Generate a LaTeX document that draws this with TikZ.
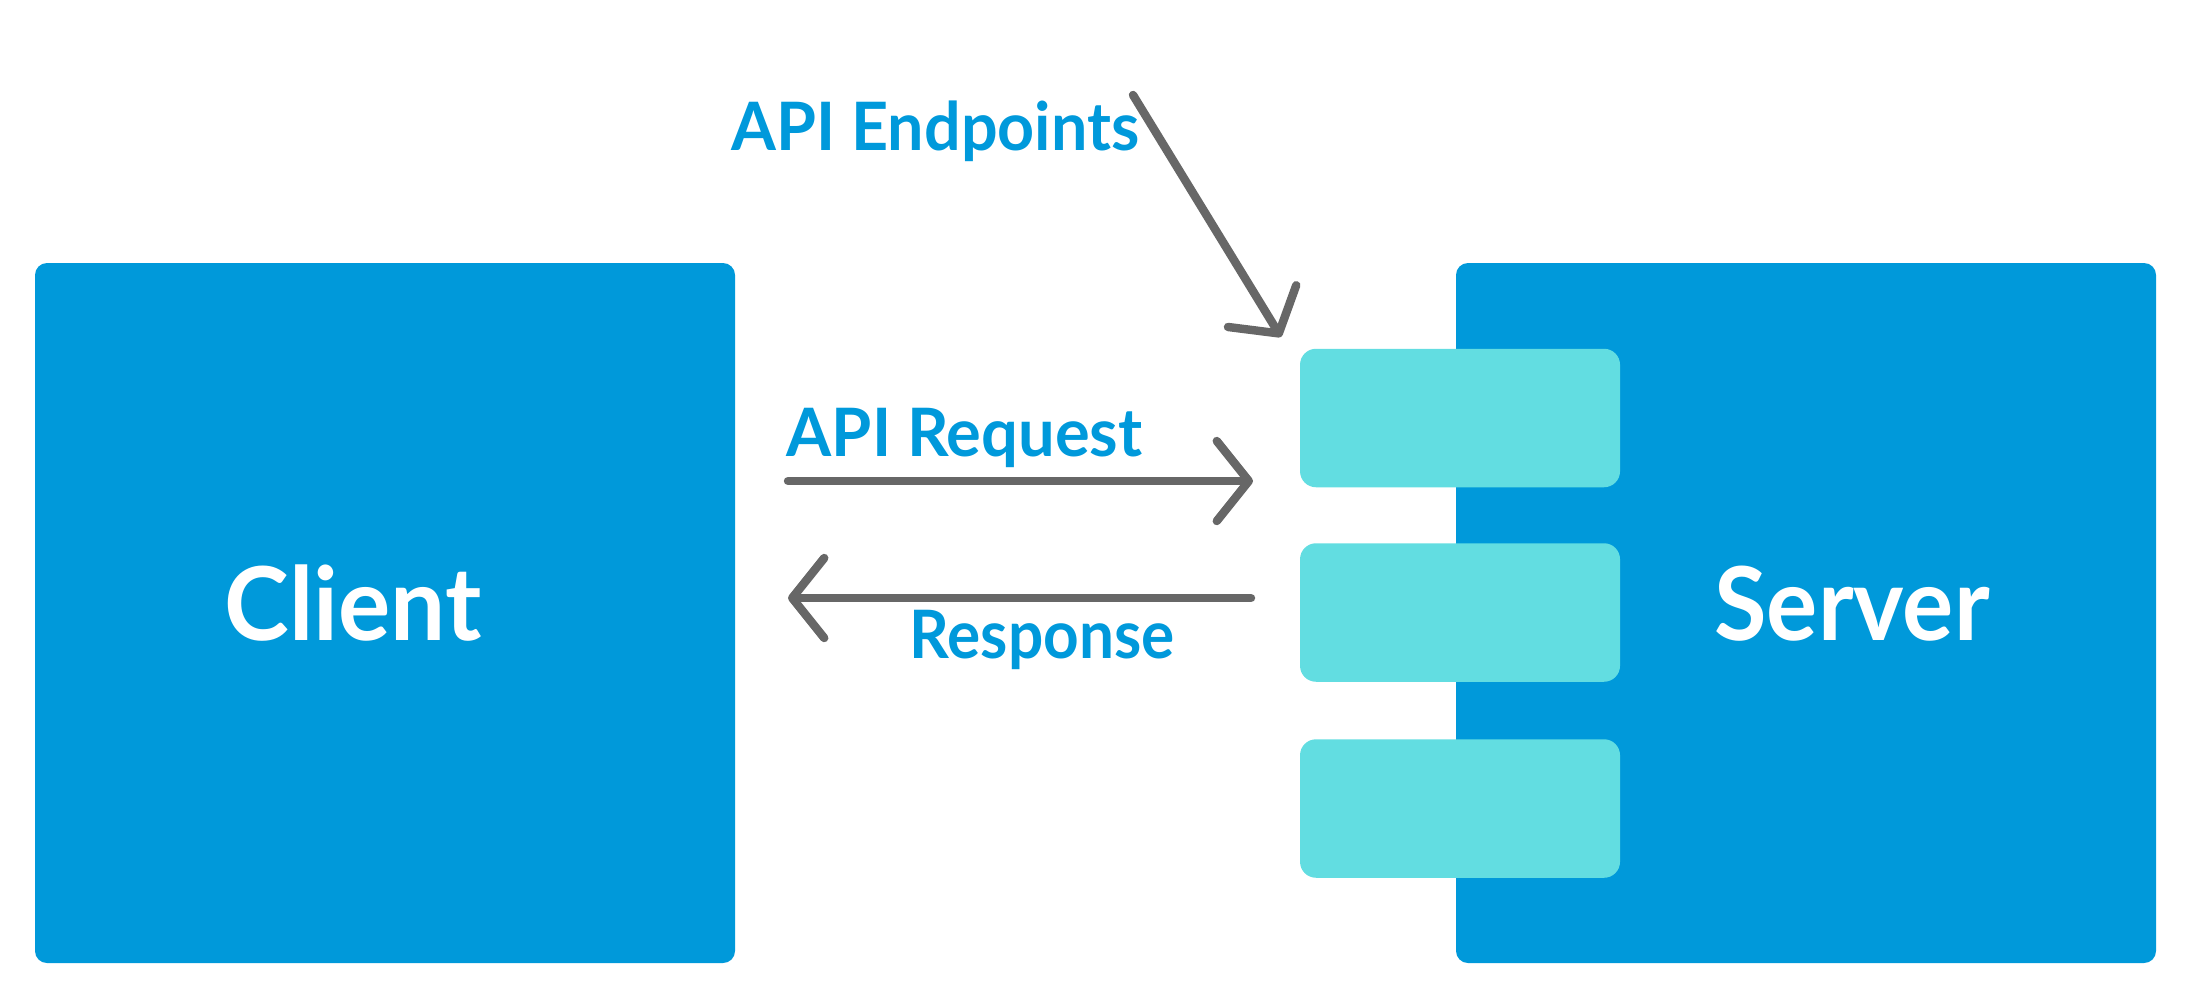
\documentclass[tikz,border=0pt]{standalone}
\usepackage{fontspec}
\usepackage{graphicx}
\setmainfont{Lato}
\usetikzlibrary{arrows.meta}
\definecolor{boxblue}{HTML}{0099DA}
\definecolor{epcyan}{HTML}{62DDE1}
\definecolor{txtblue}{HTML}{0099DB}
\definecolor{arrgray}{HTML}{676767}
\tikzset{
  bigbox/.style={fill=boxblue, draw=none, rounded corners=0.12cm, minimum width=7cm, minimum height=7cm, inner sep=0},
  epbox/.style={fill=epcyan, draw=none, rounded corners=0.16cm, minimum width=3.2cm, minimum height=1.385cm, inner sep=0},
  boxlabel/.style={text=white, font=\bfseries\fontsize{29}{34}\selectfont, inner sep=0, anchor=base},
  flowlabel/.style={text=txtblue, font=\bfseries\fontsize{19}{23}\selectfont, inner sep=0, anchor=base west},
  flowarrow/.style={draw=arrgray, line width=2.4pt, line cap=round, line join=round,
    -{Straight Barb[length=0.32cm, width=0.8cm, line cap=round, line join=round]}}
}
\begin{document}
\begin{tikzpicture}
\useasboundingbox (0,0) rectangle (21.95,-10.01);
% main boxes
\node[bigbox] (client) at (3.85,-6.13) {};
\node[bigbox] (server) at (18.06,-6.13) {};
% endpoint boxes
\node[epbox] (ep1) at (14.60,-4.18) {};
\node[epbox] (ep2) at (14.60,-6.125) {};
\node[epbox] (ep3) at (14.60,-8.085) {};
% box labels
\node[boxlabel] (clientlbl) at (3.53,-6.40) {\scalebox{0.96}[1]{Client}};
\node[boxlabel] (serverlbl) at (18.52,-6.40) {\scalebox{0.94}[1]{Server}};
% flow labels
\node[flowlabel] (eplbl) at (7.31,-1.50) {\scalebox{0.967}[1]{API Endpoints}};
\node[flowlabel] (reqlbl) at (7.86,-4.56) {\scalebox{0.973}[1]{API Request}};
\node[flowlabel] (reslbl) at (9.09,-6.58) {\scalebox{0.93}[1]{Response}};
% arrow end points
\coordinate (epS) at (11.33,-0.95);
\coordinate (epE) at (12.81,-3.37);
\coordinate (reqS) at (7.88,-4.81);
\coordinate (reqE) at (12.53,-4.81);
\coordinate (resS) at (12.51,-5.98);
\coordinate (resE) at (7.88,-5.98);
\draw[flowarrow] (epS) -- (epE);
\draw[flowarrow] (reqS) -- (reqE);
\draw[flowarrow] (resS) -- (resE);
\end{tikzpicture}
\end{document}
